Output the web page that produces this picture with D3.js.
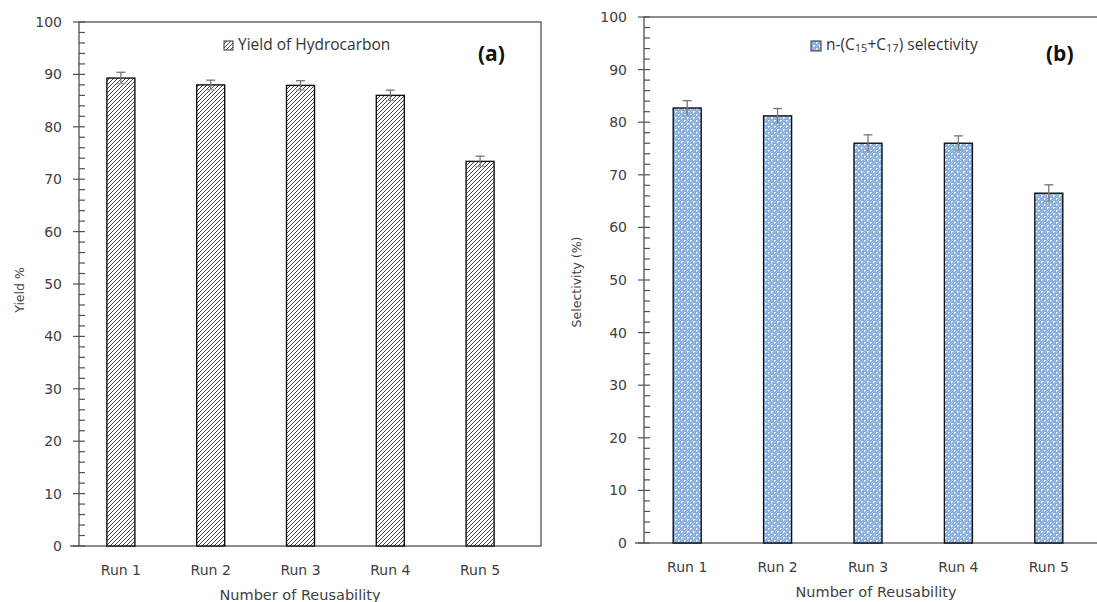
<!DOCTYPE html>
<html><head><meta charset="utf-8">
<script src="https://cdn.jsdelivr.net/npm/d3@7"></script>
<style>body{margin:0;background:#fff}svg{display:block}</style>
</head><body>
<svg id="c" width="1097" height="602"></svg>
<script>
const runs = ["Run 1", "Run 2", "Run 3", "Run 4", "Run 5"];
const yieldVals = [89.3, 88.0, 87.9, 86.0, 73.4];
const yieldErr = [1.1, 0.9, 0.9, 1.0, 1.0];
const selVals = [82.7, 81.2, 76.0, 76.0, 66.5];
const selErr = [1.4, 1.4, 1.6, 1.4, 1.6];
const yTicks = [0, 10, 20, 30, 40, 50, 60, 70, 80, 90, 100];

const svg = d3.select("#c");
const defs = svg.append("defs");
// hatch pattern
const ph = defs.append("pattern").attr("id","hatch").attr("patternUnits","userSpaceOnUse")
  .attr("width",4).attr("height",4);
ph.append("rect").attr("width",4).attr("height",4).attr("fill","#fff");
ph.append("path").attr("d","M-1,1 L1,-1 M0,4 L4,0 M3,5 L5,3").attr("stroke","#3a3a3a").attr("stroke-width",0.95);
// blue dotted pattern
const pb = defs.append("pattern").attr("id","dots").attr("patternUnits","userSpaceOnUse")
  .attr("width",6).attr("height",6);
pb.append("rect").attr("width",6).attr("height",6).attr("fill","#85acda");
[[0,0],[2,0],[4,0],[1,1],[3,1],[5,1],[0,2],[2,2],[4,2],[1,3],[3,3],[5,3],[0,4],[2,4],[4,4],[1,5],[3,5],[5,5]]
  .forEach(([x,y]) => { if ((x+y)%4===0) pb.append("rect").attr("x",x).attr("y",y).attr("width",1).attr("height",1).attr("fill","#abc8ea"); });
[[0,0],[3,3]].forEach(([x,y]) => {
  pb.append("rect").attr("x",x).attr("y",y).attr("width",1).attr("height",1).attr("fill","#fff");
  pb.append("rect").attr("x",x+1).attr("y",y).attr("width",1).attr("height",1).attr("fill","#e6effa");
  pb.append("rect").attr("x",x).attr("y",y+1).attr("width",1).attr("height",1).attr("fill","#e6effa");
});

function panel(cfg) {
  const g = svg.append("g");
  const y = d3.scaleLinear().domain([0,100]).range([cfg.y0, cfg.y1]);
  const x = d3.scalePoint().domain(runs).range([cfg.xr0, cfg.xr1]).padding(0.5);
  const ax = "#505050";
  g.append("rect").attr("x",cfg.ax).attr("y",y(100)).attr("width",cfg.boxR-cfg.ax).attr("height",y(0)-y(100))
    .attr("fill","none").attr("stroke",ax).attr("stroke-width",1.3);
  g.selectAll(".mn").data(d3.range(0,101,2).filter(v=>v%10!==0)).join("line")
    .attr("x1",cfg.ax).attr("x2",cfg.ax+6).attr("y1",d=>y(d)).attr("y2",d=>y(d)).attr("stroke",ax).attr("stroke-width",1.2);
  g.selectAll(".mj").data(yTicks).join("line")
    .attr("x1",cfg.ax-6).attr("x2",cfg.ax+6).attr("y1",d=>y(d)).attr("y2",d=>y(d)).attr("stroke",ax).attr("stroke-width",1.2);
  g.append("line").attr("x1",cfg.ax-9).attr("x2",cfg.ax).attr("y1",y(0)).attr("y2",y(0)).attr("stroke",ax).attr("stroke-width",1.3);
  g.selectAll(".tl").data(yTicks).join("text")
    .attr("x",cfg.ax-17).attr("y",d=>y(d)+5).attr("text-anchor","end")
    .attr("font-family","DejaVu Sans").attr("font-size",14).attr("fill","#404040").text(d=>d);
  g.selectAll(".bar").data(cfg.vals).join("rect")
    .attr("x",(d,i)=>x(runs[i])-14).attr("width",28)
    .attr("y",d=>y(d)).attr("height",d=>y(0)-y(d))
    .attr("fill",cfg.fill).attr("stroke","#111").attr("stroke-width",1.4);
  const eb = g.selectAll(".eb").data(cfg.vals).join("g");
  eb.append("line").attr("x1",(d,i)=>x(runs[i])).attr("x2",(d,i)=>x(runs[i]))
    .attr("y1",(d,i)=>y(d+cfg.err[i])).attr("y2",(d,i)=>y(d-cfg.err[i])).attr("stroke","#777").attr("stroke-width",1.3);
  eb.append("line").attr("x1",(d,i)=>x(runs[i])-4.5).attr("x2",(d,i)=>x(runs[i])+4.5)
    .attr("y1",(d,i)=>y(d+cfg.err[i])).attr("y2",(d,i)=>y(d+cfg.err[i])).attr("stroke","#777").attr("stroke-width",1.3);
  eb.append("line").attr("x1",(d,i)=>x(runs[i])-4.5).attr("x2",(d,i)=>x(runs[i])+4.5)
    .attr("y1",(d,i)=>y(d-cfg.err[i])).attr("y2",(d,i)=>y(d-cfg.err[i])).attr("stroke","#999").attr("stroke-width",1.1);
  g.selectAll(".xl").data(runs).join("text")
    .attr("x",d=>x(d)).attr("y",cfg.xlY).attr("text-anchor","middle")
    .attr("font-family","DejaVu Sans").attr("font-size",14).attr("fill","#404040").text(d=>d);
  g.append("text").attr("x",cfg.xtX).attr("y",cfg.xtY).attr("text-anchor","middle")
    .attr("font-family","DejaVu Sans").attr("font-size",14.5).attr("fill","#404040").text("Number of Reusability");
  g.append("text").attr("transform",`translate(${cfg.ytX},${cfg.ytY}) rotate(-90)`).attr("text-anchor","middle")
    .attr("font-family","DejaVu Sans").attr("font-size",12.5).attr("fill","#404040").text(cfg.ytitle);
  g.append("text").attr("x",cfg.plX).attr("y",cfg.plY).attr("font-family","Open Sans").attr("font-weight","bold")
    .attr("font-size",21).attr("fill","#111").text(cfg.plabel);
  return g;
}

const ga = panel({vals:yieldVals, err:yieldErr, fill:"url(#hatch)", y0:546, y1:22, xr0:76, xr1:525, ax:79, boxR:541,
  xlY:575, xtX:300, xtY:600, ytX:24, ytY:290, ytitle:"Yield %", plabel:"(a)", plX:478, plY:61});
ga.append("rect").attr("x",224).attr("y",41).attr("width",9).attr("height",9).attr("fill","url(#hatch)").attr("stroke","#333").attr("stroke-width",1);
ga.append("text").attr("x",238).attr("y",50).attr("font-family","Open Sans").attr("font-size",15.5).attr("fill","#333").text("Yield of Hydrocarbon");

const gb = panel({vals:selVals, err:selErr, fill:"url(#dots)", y0:543, y1:17, xr0:642, xr1:1094, ax:644, boxR:1112,
  xlY:572, xtX:876, xtY:597, ytX:581, ytY:282, ytitle:"Selectivity (%)", plabel:"(b)", plX:1046, plY:61});
gb.append("rect").attr("x",811).attr("y",41).attr("width",10).attr("height",10).attr("fill","url(#dots)").attr("stroke","#333").attr("stroke-width",1);
const lt = gb.append("text").attr("x",826).attr("y",50).attr("font-family","Open Sans").attr("font-size",15.5).attr("fill","#333");
lt.append("tspan").text("n-(C");
lt.append("tspan").attr("font-size",11).attr("dy",2).text("15");
lt.append("tspan").attr("dy",-2).text("+C");
lt.append("tspan").attr("font-size",11).attr("dy",2).text("17");
lt.append("tspan").attr("dy",-2).text(") selectivity");
</script>
</body></html>
